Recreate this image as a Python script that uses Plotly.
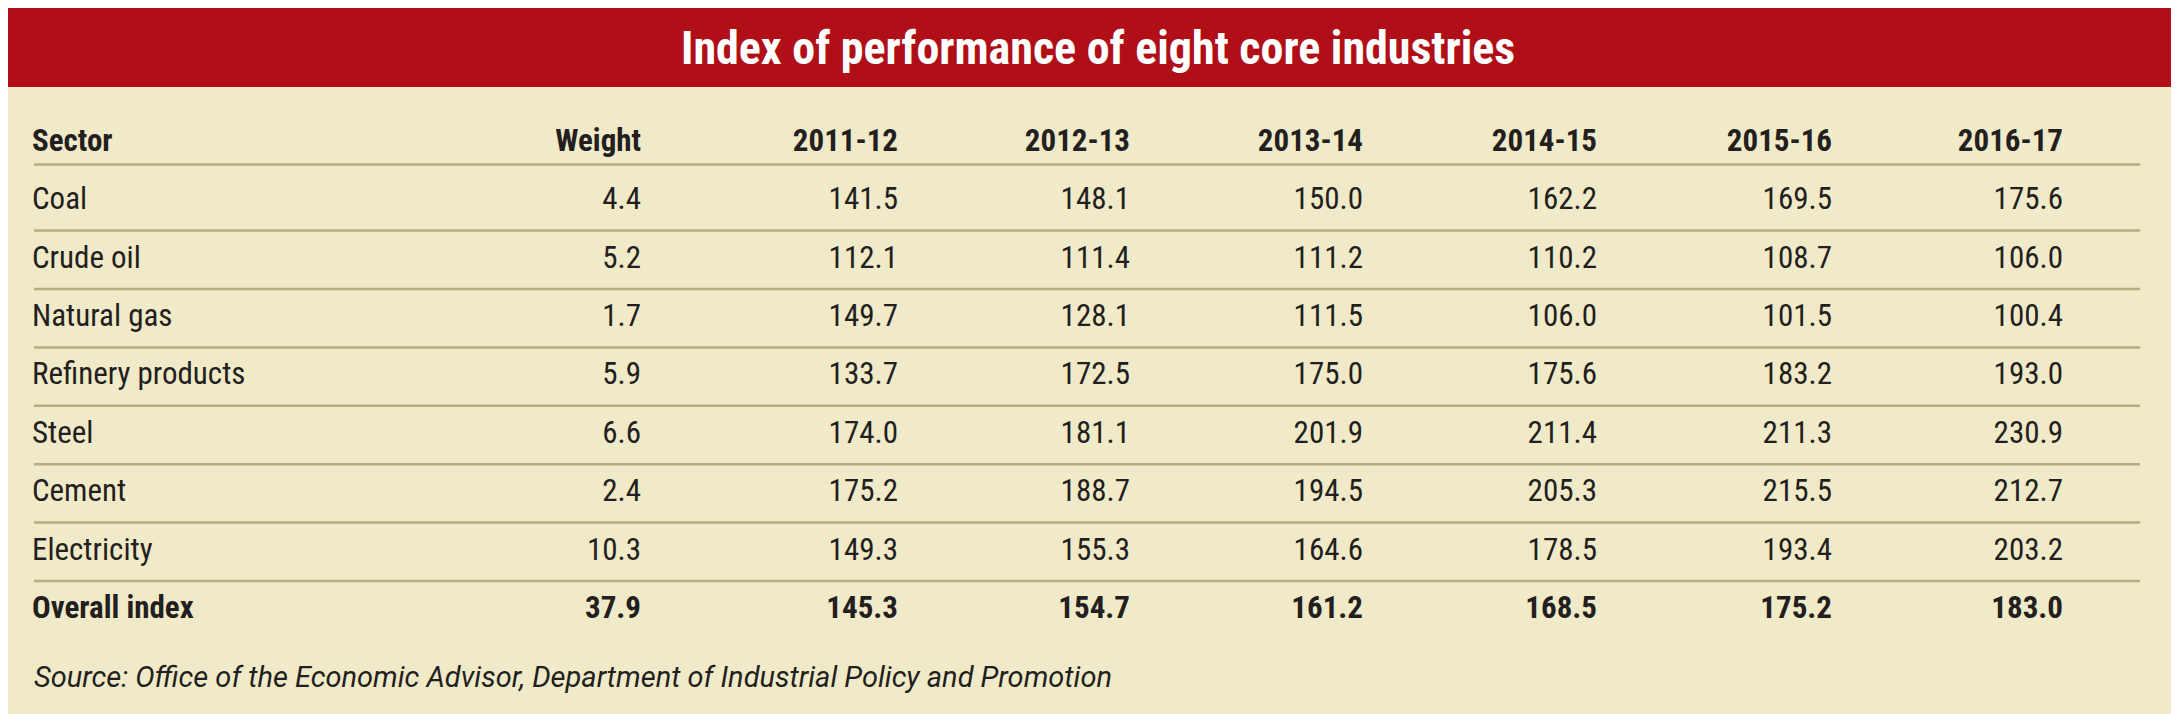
import plotly.graph_objects as go

# table data
sectors = ["Coal", "Crude oil", "Natural gas", "Refinery products", "Steel",
           "Cement", "Electricity", "Overall index"]
weight = ["4.4", "5.2", "1.7", "5.9", "6.6", "2.4", "10.3", "37.9"]
years = ["2011-12", "2012-13", "2013-14", "2014-15", "2015-16", "2016-17"]
index_vals = [
    ["141.5", "112.1", "149.7", "133.7", "174.0", "175.2", "149.3", "145.3"],
    ["148.1", "111.4", "128.1", "172.5", "181.1", "188.7", "155.3", "154.7"],
    ["150.0", "111.2", "111.5", "175.0", "201.9", "194.5", "164.6", "161.2"],
    ["162.2", "110.2", "106.0", "175.6", "211.4", "205.3", "178.5", "168.5"],
    ["169.5", "108.7", "101.5", "183.2", "211.3", "215.5", "193.4", "175.2"],
    ["175.6", "106.0", "100.4", "193.0", "230.9", "212.7", "203.2", "183.0"],
]

W, H = 2179, 714
BG = "#f0eac8"
RED = "#b00f17"
INK = "#231f20"
FONT = "Liberation Sans Narrow, Roboto Condensed, Arial Narrow, sans-serif"
FS = 31

# column anchors (pixels): sector is left aligned, the rest right aligned
col_left = 24
col_right = [633, 890, 1122, 1355, 1589, 1824, 2055]


def fmt(rows, last_bold=True):
    out = []
    for i, t in enumerate(rows):
        out.append("<b>%s</b>" % t if (last_bold and i == len(rows) - 1) else t)
    return out


rows = list(range(1, len(sectors) + 1))
fig = go.Figure()

# header row (row 0)
fig.add_trace(go.Scatter(x=[col_left], y=[0], mode="text", text=["<b>Sector</b>"],
                         textposition="middle right", hoverinfo="skip"))
headers = ["Weight"] + years
for x, h in zip(col_right, headers):
    fig.add_trace(go.Scatter(x=[x], y=[0], mode="text", text=["<b>%s</b>" % h],
                             textposition="middle left", hoverinfo="skip"))

fig.add_trace(go.Scatter(x=[col_left] * len(sectors), y=rows, mode="text",
                         text=fmt(sectors), textposition="middle right", hoverinfo="skip"))
for x, col in zip(col_right, [weight] + index_vals):
    fig.add_trace(go.Scatter(x=[x] * len(col), y=rows, mode="text",
                             text=fmt(col), textposition="middle left", hoverinfo="skip"))

fig.update_traces(textfont=dict(family=FONT, size=FS, color=INK))

# row separators (none under the overall row)
shapes = [dict(type="rect", xref="paper", yref="paper", x0=0, x1=1, y0=1 - 79 / H, y1=1,
               fillcolor=RED, line=dict(width=0), layer="below")]
for yl in [0.37] + [r + 0.5 for r in rows[:-1]]:
    shapes.append(dict(type="line", xref="x", yref="y", x0=col_left + 2, x1=2132, y0=yl, y1=yl,
                       line=dict(color="#b3ad82", width=2.5)))

# y axis maps row index to pixels: row 0 at 135 px, 58.4 px per row
y_top = (0 - 135) / 58.4
y_bot = (H - 135) / 58.4

fig.update_layout(
    width=W, height=H,
    margin=dict(l=0, r=0, t=0, b=0),
    paper_bgcolor=BG, plot_bgcolor=BG,
    showlegend=False,
    shapes=shapes,
    xaxis=dict(range=[0, W], visible=False, fixedrange=True),
    yaxis=dict(range=[y_bot, y_top], visible=False, fixedrange=True),
    annotations=[
        dict(text="<b>Index of performance of eight core industries</b>", xref="paper", yref="paper",
             x=0.5, y=1 - 40 / H, xanchor="center", yanchor="middle", showarrow=False,
             font=dict(family=FONT, size=46, color="white")),
        dict(text="<i>Source: Office of the Economic Advisor, Department of Industrial Policy and Promotion</i>",
             xref="paper", yref="paper", x=col_left / W, y=1 - 669 / H, xanchor="left", yanchor="middle",
             showarrow=False, font=dict(family="Roboto, sans-serif", size=29, color=INK)),
    ],
)

fig.write_html("out.html")
